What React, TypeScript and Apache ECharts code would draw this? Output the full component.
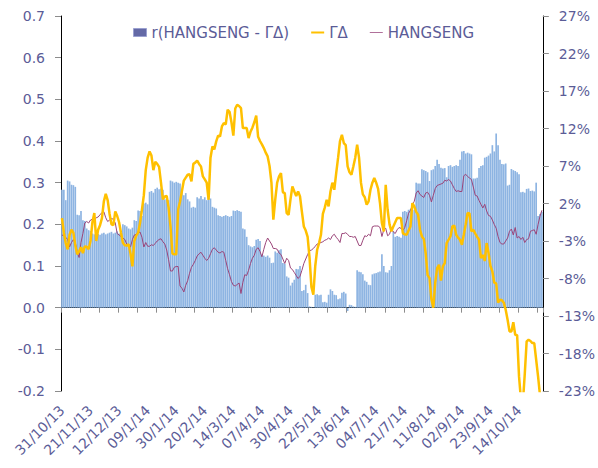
import React, { useEffect, useRef } from "react";
import * as echarts from "echarts";

// x-axis tick labels (one every 15 trading days)
const tickLabels = [
  "31/10/13", "21/11/13", "12/12/13", "09/1/14", "30/1/14", "20/2/14", "14/3/14",
  "07/4/14", "30/4/14", "22/5/14", "13/6/14", "04/7/14", "21/7/14", "11/8/14",
  "02/9/14", "23/9/14", "14/10/14",
];

// r(HANGSENG - ΓΔ) — bars, left axis
const corrValues = [
  0.283, 0.283, 0.258, 0.305, 0.303, 0.295, 0.294, 0.29, 0.223, 0.222,
  0.232, 0.21, 0.208, 0.19, 0.186, 0.184, 0.178, 0.176, 0.18, 0.177,
  0.175, 0.178, 0.18, 0.176, 0.178, 0.18, 0.182, 0.178, 0.18, 0.183,
  0.178, 0.18, 0.2, 0.198, 0.195, 0.19, 0.188, 0.192, 0.21, 0.208,
  0.233, 0.232, 0.22, 0.25, 0.252, 0.248, 0.278, 0.28, 0.276, 0.285,
  0.288, 0.284, 0.286, 0.283, 0.26, 0.262, 0.258, 0.305, 0.303, 0.3,
  0.302, 0.3, 0.298, 0.28, 0.27, 0.275, 0.26, 0.255, 0.24, 0.242,
  0.24, 0.265, 0.262, 0.268, 0.26, 0.265, 0.258, 0.264, 0.262, 0.242,
  0.24, 0.238, 0.222, 0.22, 0.218, 0.22, 0.222, 0.22, 0.218, 0.22,
  0.233, 0.232, 0.234, 0.232, 0.23, 0.19, 0.188, 0.17, 0.15, 0.147,
  0.145, 0.148, 0.163, 0.165, 0.16, 0.127, 0.125, 0.122, 0.125, 0.12,
  0.107, 0.108, 0.135, 0.132, 0.138, 0.14, 0.107, 0.105, 0.075, 0.072,
  0.053, 0.06, 0.067, 0.093, 0.092, 0.1, 0.04, 0.042, 0.055, 0.035,
  0.003, 0.002, 0.001, 0.031, 0.032, 0.03, 0.031, 0.013, 0.014, 0.012,
  0.031, 0.044, 0.04, 0.031, 0.03, 0.02, 0.022, 0.036, 0.038, 0.034,
  -0.008, 0.007, 0.006, 0.003, 0.002, 0.09, 0.086, 0.085, 0.08, 0.065,
  0.062, 0.055, 0.054, 0.08, 0.082, 0.083, 0.085, 0.087, 0.128, 0.1,
  0.085, 0.084, 0.09, 0.1, 0.183, 0.17, 0.172, 0.17, 0.168, 0.23,
  0.232, 0.23, 0.235, 0.236, 0.234, 0.235, 0.3, 0.298, 0.298, 0.332,
  0.33, 0.328, 0.325, 0.304, 0.33, 0.332, 0.34, 0.355, 0.345, 0.336,
  0.334, 0.335, 0.313, 0.34, 0.342, 0.338, 0.34, 0.342, 0.34, 0.355,
  0.375, 0.376, 0.37, 0.372, 0.37, 0.368, 0.31, 0.31, 0.312, 0.335,
  0.34, 0.342, 0.36, 0.362, 0.365, 0.37, 0.39, 0.375, 0.418, 0.39,
  0.355, 0.345, 0.344, 0.346, 0.293, 0.295, 0.333, 0.33, 0.328, 0.325,
  0.32, 0.277, 0.278, 0.276, 0.285, 0.286, 0.28, 0.281, 0.279, 0.3,
  0.22, 0.225, 0.23,
];

// ΓΔ — yellow line, left axis
const gammaDeltaValues = [
  0.215, 0.18, 0.155, 0.14, 0.175, 0.187, 0.18, 0.15, 0.128, 0.135,
  0.145, 0.131, 0.147, 0.146, 0.14, 0.16, 0.205, 0.227, 0.16, 0.187,
  0.198, 0.215, 0.255, 0.273, 0.258, 0.225, 0.2, 0.198, 0.231, 0.22,
  0.205, 0.18, 0.156, 0.15, 0.149, 0.152, 0.13, 0.099, 0.16, 0.173,
  0.18, 0.203, 0.235, 0.27, 0.33, 0.36, 0.375, 0.365, 0.33, 0.35,
  0.345, 0.338, 0.3, 0.26, 0.267, 0.268, 0.24, 0.195, 0.13, 0.128,
  0.128, 0.235, 0.255, 0.28, 0.305, 0.312, 0.319, 0.32, 0.303, 0.345,
  0.348, 0.353, 0.345, 0.339, 0.315, 0.308, 0.3, 0.259, 0.36, 0.387,
  0.38, 0.399, 0.413, 0.411, 0.435, 0.443, 0.44, 0.475, 0.47, 0.445,
  0.413, 0.478, 0.487, 0.484, 0.479, 0.431, 0.431, 0.431, 0.407, 0.422,
  0.432, 0.445, 0.461, 0.41, 0.4, 0.392, 0.383, 0.372, 0.363, 0.34,
  0.3, 0.211, 0.26, 0.3, 0.315, 0.323, 0.277, 0.275, 0.227, 0.223,
  0.26, 0.291, 0.279, 0.268, 0.279, 0.267, 0.23, 0.195, 0.185, 0.17,
  0.12, 0.05, 0.031, 0.1, 0.139, 0.155, 0.175, 0.225, 0.24, 0.259,
  0.243, 0.279, 0.3, 0.283, 0.323, 0.36, 0.4, 0.415, 0.395, 0.39,
  0.339, 0.325, 0.319, 0.339, 0.36, 0.391, 0.36, 0.3, 0.272, 0.265,
  0.247, 0.255, 0.283, 0.3, 0.311, 0.3, 0.285, 0.251, 0.203, 0.183,
  0.295, 0.235, 0.2, 0.183, 0.195, 0.205, 0.215, 0.215, 0.215, 0.179,
  0.176, 0.175, 0.185, 0.195, 0.251, 0.243, 0.23, 0.223, 0.187, 0.171,
  0.165, 0.13, 0.078, 0.071, 0.02, 0.0, 0.06, 0.095, 0.103, 0.065,
  0.099, 0.107, 0.155, 0.163, 0.171, 0.195, 0.197, 0.175, 0.168, 0.163,
  0.151, 0.175, 0.2, 0.227, 0.226, 0.183, 0.187, 0.178, 0.17, 0.163,
  0.119, 0.127, 0.112, 0.155, 0.131, 0.1, 0.087, 0.06, 0.058, 0.012,
  0.019, 0.018, 0.012, -0.005, -0.029, -0.057, -0.057, -0.035, -0.065, -0.066,
  -0.165, -0.22, -0.23, -0.16, -0.081, -0.077, -0.08, -0.085, -0.085, -0.125,
  -0.165, -0.21, -0.24,
];

// HANGSENG — purple line, right axis (%)
const hangsengValues = [
  -2.2, -2.3, -2.5, -2.8, -3.8, -3.2, -2.8, -3.2, -4.5, -5.2,
  -3.2, -2.0, -0.6, -0.4, -0.6, -0.2, -0.1, -0.2, 0.1, 0.2,
  0.5, 0.8, 0.9, 0.1, -0.4, -0.2, 0.0, -0.1, -0.6, -2.0,
  -2.2, -2.4, -2.6, -2.8, -3.4, -3.6, -3.8, -2.8, -2.2, -2.1,
  -1.9, -1.8, -2.5, -3.8, -3.2, -3.7, -3.7, -3.5, -3.6, -3.3,
  -3.0, -2.8, -2.7, -3.1, -3.4, -4.2, -5.5, -7.0, -7.0, -6.5,
  -6.4, -6.4, -9.0, -9.3, -9.8, -8.9, -8.3, -7.3, -6.5, -6.1,
  -5.6, -5.0, -4.7, -4.5, -4.9, -5.3, -5.6, -5.3, -4.7, -4.1,
  -3.9, -4.2, -4.5, -4.6, -4.4, -4.5, -5.6, -6.7, -7.5, -8.4,
  -8.9, -9.0, -8.8, -8.6, -10.0, -8.5, -7.5, -7.6, -6.9, -6.0,
  -5.3, -4.9, -4.1, -3.9, -4.4, -5.1, -4.1, -3.2, -2.6, -3.0,
  -3.4, -4.0, -4.0, -4.1, -4.6, -4.8, -5.4, -6.0, -5.3, -5.6,
  -6.6, -6.8, -7.2, -7.6, -8.0, -7.7, -6.9, -6.0, -5.4, -4.8,
  -4.3, -4.2, -4.0, -3.7, -3.4, -3.3, -3.2, -3.1, -2.9, -2.8,
  -2.6, -2.8, -2.3, -2.1, -2.5, -2.8, -3.2, -2.0, -2.0, -1.9,
  -2.1, -2.4, -2.4, -2.5, -2.4, -3.0, -3.6, -3.6, -2.9, -2.3,
  -2.4, -2.1, -2.3, -1.1, -1.0, -1.0, -1.0, -1.2, -2.4, -1.5,
  -1.3, -2.3, -2.1, -1.3, -1.8, -2.0, -1.5, -1.2, -1.3, -1.6,
  -1.2, -0.3, 0.7, 1.1, 1.8, 2.3, 3.4, 3.7, 3.2, 3.0,
  2.8, 3.4, 3.5, 3.1, 2.2, 3.1, 4.0, 4.4, 4.5, 4.6,
  4.7, 5.1, 5.0, 5.2, 5.0, 4.5, 4.0, 3.6, 3.7, 3.6,
  3.6, 5.7, 5.9, 5.6, 5.4, 5.2, 4.2, 3.1, 3.0, 2.4,
  1.9, 1.4, 1.9, 1.0, 0.4, 0.3, -0.2, -0.8, -1.3, -2.4,
  -3.2, -3.4, -3.4, -3.0, -2.6, -1.7, -1.4, -2.2, -1.2, -2.6,
  -2.4, -2.8, -2.5, -3.2, -2.8, -2.7, -1.7, -1.6, -1.5, -2.1,
  -0.8, 0.3, 1.1,
];

const categories = corrValues.map((_, i) =>
  i % 15 === 0 && tickLabels[i / 15] ? tickLabels[i / 15] : "d" + i
);

const TEXT = "#5B5C97";
const FONT = "DejaVu Sans";

export default function App() {
  const ref = useRef<HTMLDivElement>(null);
  useEffect(() => {
    if (!ref.current) return;
    const chart = echarts.init(ref.current, null, { renderer: "svg" });
    chart.setOption({
      animation: false,
      backgroundColor: "#ffffff",
      textStyle: { fontFamily: FONT, color: TEXT },
      grid: { left: 61, right: 53, top: 16, bottom: 77 },
      legend: {
        left: 128,
        top: 20,
        itemWidth: 13,
        itemHeight: 8,
        itemGap: 22,
        textStyle: { color: TEXT, fontSize: 15, fontFamily: FONT },
        data: [
          {
            name: "r(HANGSENG - ΓΔ)",
            icon: "rect",
            itemStyle: { color: "#6469A6", borderColor: "#9AA0D0", borderWidth: 1 },
          },
          {
            name: "ΓΔ",
            icon: "path://M0,0H13V2H0Z",
            itemStyle: { color: "#FFC000" },
          },
          {
            name: "HANGSENG",
            icon: "path://M0,0H13V1H0Z",
            itemStyle: { color: "#B0709A" },
          },
        ],
      },
      xAxis: [
        {
          type: "category",
          data: categories,
          position: "bottom",
          boundaryGap: true,
          axisLine: { show: false, onZero: false },
          axisTick: { show: false },
          splitLine: { show: false },
          axisLabel: {
            rotate: 45,
            interval: 14,
            margin: 17,
            color: TEXT,
            fontSize: 14,
            fontFamily: FONT,
            formatter: (v: string) => (v.startsWith("d") ? "" : v),
          },
        },
        {
          type: "category",
          data: categories,
          position: "bottom",
          boundaryGap: true,
          axisLine: { show: true, onZero: true, onZeroAxisIndex: 0, lineStyle: { color: "#000000", width: 1 } },
          axisTick: { show: true, interval: 9, length: 5, lineStyle: { color: "#8C8C8C" } },
          axisLabel: { show: false },
          splitLine: { show: false },
        },
      ],
      yAxis: [
        {
          type: "value",
          position: "left",
          min: -0.2,
          max: 0.7,
          interval: 0.1,
          axisLine: { show: true, lineStyle: { color: "#000000" } },
          axisTick: { show: true, length: 6, lineStyle: { color: "#8C8C8C" } },
          splitLine: { show: false },
          axisLabel: {
            margin: 16,
            color: TEXT,
            fontSize: 14,
            fontFamily: FONT,
            formatter: (v: number) => v.toFixed(1),
          },
        },
        {
          type: "value",
          position: "right",
          min: -23,
          max: 27,
          interval: 5,
          axisLine: { show: true, lineStyle: { color: "#000000" } },
          axisTick: { show: true, length: 6, lineStyle: { color: "#8C8C8C" } },
          splitLine: { show: false },
          axisLabel: {
            margin: 16,
            color: TEXT,
            fontSize: 14,
            fontFamily: FONT,
            formatter: (v: number) => Math.round(v) + "%",
          },
        },
      ],
      series: [
        {
          name: "r(HANGSENG - ΓΔ)",
          type: "bar",
          xAxisIndex: 0,
          yAxisIndex: 0,
          data: corrValues,
          barCategoryGap: "12%",
          itemStyle: { color: "#8DB4E2" },
        },
        {
          name: "ΓΔ",
          type: "line",
          xAxisIndex: 0,
          yAxisIndex: 0,
          data: gammaDeltaValues,
          symbol: "none",
          clip: true,
          z: 4,
          lineStyle: { color: "#FFC000", width: 2.5 },
          itemStyle: { color: "#FFC000" },
        },
        {
          name: "HANGSENG",
          type: "line",
          xAxisIndex: 0,
          yAxisIndex: 1,
          data: hangsengValues,
          symbol: "none",
          clip: true,
          z: 3,
          lineStyle: { color: "#9B4579", width: 1 },
          itemStyle: { color: "#B0709A" },
        },
      ],
    });
    return () => chart.dispose();
  }, []);
  return (
    <div
      ref={ref}
      style={{ position: "fixed", left: 0, top: 0, width: 598, height: 468, background: "#fff" }}
    />
  );
}
